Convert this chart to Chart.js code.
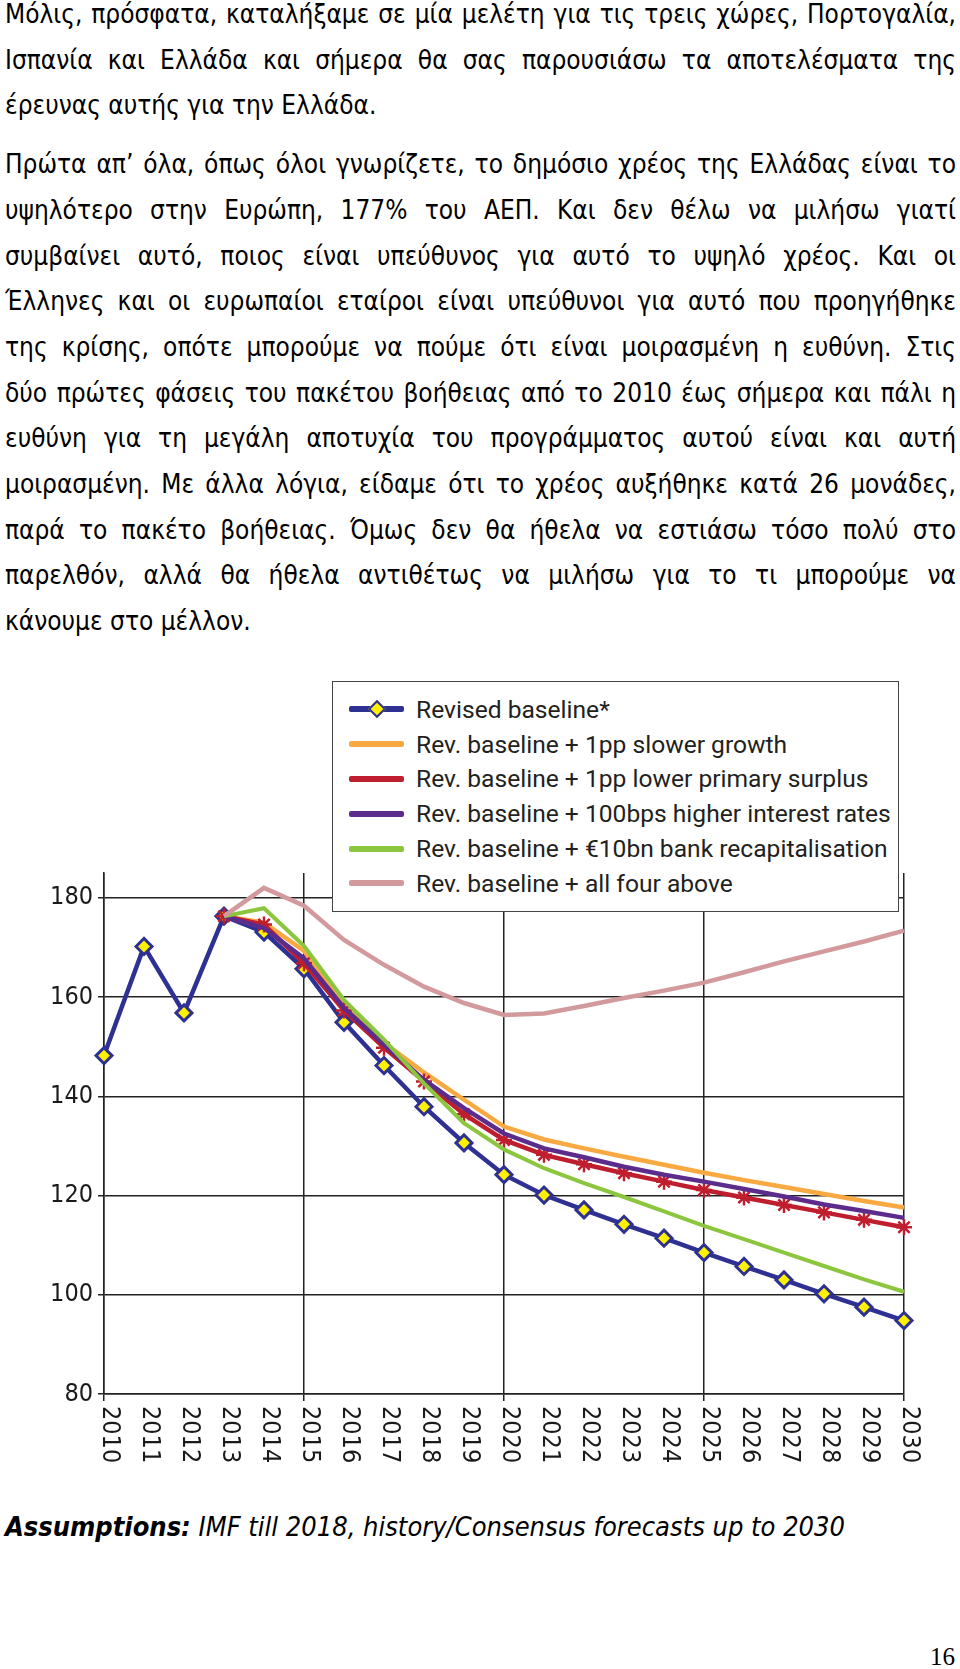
<!DOCTYPE html>
<html>
<head>
<meta charset="utf-8">
<script src="https://cdn.jsdelivr.net/npm/chart.js@4.4.0/dist/chart.umd.min.js"></script>
<style>
	body { margin: 0; background: #fff; }
	#page { position: relative; width: 960px; height: 1669px; overflow: hidden; }
	.text { position: absolute; left: 5px; width: 951px; top: -8px; font-family: "DejaVu Sans Condensed", "DejaVu Sans", sans-serif; font-size: 26px; line-height: 45.7px; color: #000; }
	.text p { margin: 0; }
	.text p + p { margin-top: 13px; }
	.text .l { display: block; text-align: justify; text-align-last: justify; }
	.text .e { display: block; text-align: left; }
	#chart { position: absolute; left: 0; top: 660px; }
	#legend { position: absolute; left: 332px; top: 681px; width: 567px; height: 231px; box-sizing: border-box; border: 1.5px solid #444; background: #fff; padding-top: 10px; }
	#legend .row { display: flex; align-items: center; height: 34.8px; font-family: Roboto, sans-serif; font-size: 24.6px; color: #231f20; white-space: nowrap; }
	#legend .sw { position: relative; width: 55px; height: 6px; margin-left: 16px; margin-right: 12px; border-radius: 2px; }
	#legend .dia { position: absolute; left: 50%; top: 50%; width: 9px; height: 9px; background: #fff200; border: 2.5px solid #2e3192; transform: translate(-50%, -50%) rotate(45deg); }
	.note { position: absolute; left: 5px; top: 1511px; font-family: "DejaVu Sans Condensed", "DejaVu Sans", sans-serif; font-size: 27px; font-style: italic; color: #000; }
	.pageno { position: absolute; right: 5px; top: 1643px; font-family: "Liberation Serif", serif; font-size: 25px; }
</style>
</head>
<body>
<div id="page">
	<div class="text">
		<p>
			<span class="l">Μόλις, πρόσφατα, καταλήξαμε σε μία μελέτη για τις τρεις χώρες, Πορτογαλία,</span>
			<span class="l">Ισπανία και Ελλάδα και σήμερα θα σας παρουσιάσω τα αποτελέσματα της</span>
			<span class="e">έρευνας αυτής για την Ελλάδα.</span>
		</p>
		<p>
			<span class="l">Πρώτα απ’ όλα, όπως όλοι γνωρίζετε, το δημόσιο χρέος της Ελλάδας είναι το</span>
			<span class="l">υψηλότερο στην Ευρώπη, 177% του ΑΕΠ. Και δεν θέλω να μιλήσω γιατί</span>
			<span class="l">συμβαίνει αυτό, ποιος είναι υπεύθυνος για αυτό το υψηλό χρέος. Και οι</span>
			<span class="l">Έλληνες και οι ευρωπαίοι εταίροι είναι υπεύθυνοι για αυτό που προηγήθηκε</span>
			<span class="l">της κρίσης, οπότε μπορούμε να πούμε ότι είναι μοιρασμένη η ευθύνη. Στις</span>
			<span class="l">δύο πρώτες φάσεις του πακέτου βοήθειας από το 2010 έως σήμερα και πάλι η</span>
			<span class="l">ευθύνη για τη μεγάλη αποτυχία του προγράμματος αυτού είναι και αυτή</span>
			<span class="l">μοιρασμένη. Με άλλα λόγια, είδαμε ότι το χρέος αυξήθηκε κατά 26 μονάδες,</span>
			<span class="l">παρά το πακέτο βοήθειας. Όμως δεν θα ήθελα να εστιάσω τόσο πολύ στο</span>
			<span class="l">παρελθόν, αλλά θα ήθελα αντιθέτως να μιλήσω για το τι μπορούμε να</span>
			<span class="e">κάνουμε στο μέλλον.</span>
		</p>
	</div>
	<canvas id="chart" width="960" height="820"></canvas>
	<div id="legend"></div>
	<div class="note"><b>Assumptions:</b> IMF till 2018, history/Consensus forecasts up to 2030</div>
	<div class="pageno">16</div>
</div>
<script>
const years = ['2010', '2011', '2012', '2013', '2014', '2015', '2016', '2017', '2018', '2019', '2020',
	'2021', '2022', '2023', '2024', '2025', '2026', '2027', '2028', '2029', '2030'];
const yTicks = [80, 100, 120, 140, 160, 180];

const revisedBaseline = [148.2, 170.2, 156.8, 176.3, 173.1, 165.7, 154.9, 146.2, 137.9, 130.6, 124.2,
	120.1, 117.1, 114.2, 111.4, 108.5, 105.7, 103.0, 100.2, 97.5, 94.8];
const slowerGrowth = [null, null, null, 176.3, 175.0, 169.3, 158.5, 150.8, 144.8, 139.3, 133.9,
	131.3, 129.5, 127.8, 126.2, 124.6, 123.1, 121.7, 120.3, 118.9, 117.6];
const lowerSurplus = [null, null, null, 176.3, 174.6, 166.8, 157.3, 149.8, 143.0, 136.4, 131.2,
	128.2, 126.3, 124.5, 122.8, 121.1, 119.6, 118.1, 116.6, 115.1, 113.6];
const higherRates = [null, null, null, 176.3, 173.9, 167.8, 157.8, 150.4, 143.3, 137.6, 132.5,
	129.5, 127.7, 125.8, 124.2, 122.8, 121.3, 119.8, 118.2, 116.9, 115.5];
const bankRecap = [null, null, null, 176.3, 177.9, 170.3, 159.4, 151.4, 142.6, 134.6, 129.3,
	125.5, 122.5, 119.7, 116.8, 113.9, 111.2, 108.5, 105.8, 103.1, 100.6];
const allFour = [null, null, null, 176.3, 182.0, 178.4, 171.5, 166.5, 162.1, 158.8, 156.4,
	156.7, 158.2, 159.8, 161.3, 162.9, 165.0, 167.2, 169.2, 171.2, 173.4];

const seriesNames = [
	'Revised baseline*',
	'Rev. baseline + 1pp slower growth',
	'Rev. baseline + 1pp lower primary surplus',
	'Rev. baseline + 100bps higher interest rates',
	'Rev. baseline + €10bn bank recapitalisation',
	'Rev. baseline + all four above'
];
const seriesColors = ['#2e3192', '#f9a942', '#be1e2d', '#5b2c8c', '#8cc63f', '#d29a9c'];

// legende en HTML, posee sur le haut du graphique
const legend = document.getElementById('legend');
seriesNames.forEach((name, i) => {
	const row = document.createElement('div');
	row.className = 'row';
	const sw = document.createElement('span');
	sw.className = 'sw';
	sw.style.background = seriesColors[i];
	if (i === 0) {
		const d = document.createElement('span');
		d.className = 'dia';
		sw.appendChild(d);
	}
	const t = document.createElement('span');
	t.textContent = name;
	row.append(sw, t);
	legend.appendChild(row);
});

const axisFont = { family: '"DejaVu Sans Condensed", "DejaVu Sans", sans-serif', size: 25 };

// etiquettes des annees, tournees dans le sens horaire
const yearLabels = {
	id: 'yearLabels',
	afterDraw(chart) {
		const xs = chart.scales.x;
		const c = chart.ctx;
		c.save();
		c.font = axisFont.size + 'px ' + axisFont.family;
		c.fillStyle = '#1a1a1a';
		c.textAlign = 'left';
		c.textBaseline = 'middle';
		years.forEach((y, i) => {
			c.save();
			c.translate(xs.getPixelForTick(i) + 5, xs.top + 12);
			c.rotate(Math.PI / 2);
			c.fillText(y, 0, 0);
			c.restore();
		});
		c.restore();
	}
};

const line = (data, i, extra) => Object.assign({
	label: seriesNames[i],
	data: data,
	borderColor: seriesColors[i],
	borderWidth: 4.5,
	pointRadius: 0,
	tension: 0,
	clip: false,
	order: 6 - i
}, extra || {});

new Chart(document.getElementById('chart'), {
	type: 'line',
	data: {
		labels: years,
		datasets: [
			line(revisedBaseline, 0, {
				borderWidth: 4.5,
				pointStyle: 'rectRot',
				pointRadius: 8,
				pointBackgroundColor: '#fff200',
				pointBorderColor: seriesColors[0],
				pointBorderWidth: 3
			}),
			line(slowerGrowth, 1),
			line(lowerSurplus, 2, {
				pointStyle: 'star',
				pointRadius: 8,
				pointBorderColor: seriesColors[2],
				pointBorderWidth: 2.5
			}),
			line(higherRates, 3),
			line(bankRecap, 4, { borderWidth: 4 }),
			line(allFour, 5)
		]
	},
	options: {
		responsive: false,
		animation: false,
		devicePixelRatio: 1,
		layout: { padding: { top: 213, right: 56, left: 0, bottom: 0 } },
		plugins: {
			legend: { display: false },
			tooltip: { enabled: false }
		},
		scales: {
			x: {
				offset: false,
				grid: {
					color: c => (c.index % 5 === 0 ? '#222' : 'rgba(0,0,0,0)'),
					lineWidth: 1.5,
					tickLength: 7
				},
				border: { color: '#222', width: 1.5 },
				ticks: { display: false },
				afterFit: s => { s.height = 86; }
			},
			y: {
				min: 80,
				max: 185,
				afterBuildTicks: a => { a.ticks = yTicks.map(v => ({ value: v })); },
				grid: { color: '#222', lineWidth: 1.5, tickLength: 6 },
				border: { color: '#222', width: 1.5 },
				ticks: { font: axisFont, color: '#1a1a1a', padding: 5 },
				afterFit: s => { s.width = 104; }
			}
		}
	},
	plugins: [yearLabels]
});
</script>
</body>
</html>
